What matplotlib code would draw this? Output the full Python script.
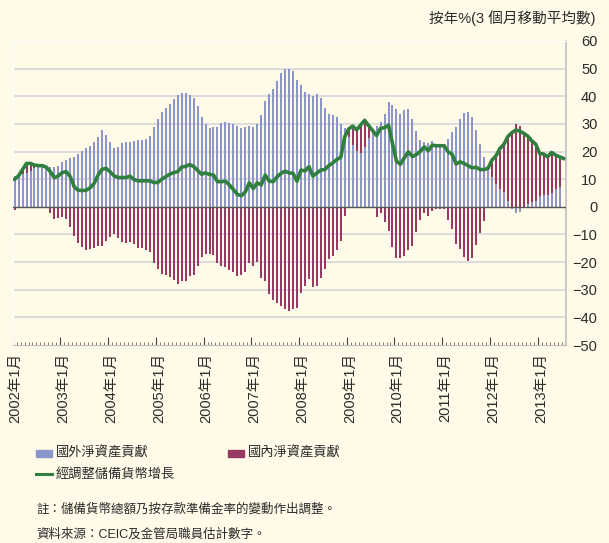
import matplotlib
matplotlib.use("Agg")
import matplotlib.pyplot as plt
import matplotlib.transforms as mtransforms
import numpy as np
from matplotlib.lines import Line2D
from matplotlib.patches import Rectangle

plt.rcParams["font.family"] = ["Liberation Sans", "Noto Sans CJK TC"]

# 每月數據：2002年1月至2013年6月（按年%，3個月移動平均數）
FOREIGN = [
    11.0, 11.2, 11.7, 12.3, 13.0, 13.9, 14.5, 14.5, 14.3, 14.5,
    14.5, 14.7, 16.3, 16.9, 17.6, 18.0, 19.1, 20.2, 21.3, 22.0,
    23.4, 25.2, 27.8, 26.0, 23.4, 21.3, 21.6, 23.1, 23.4, 23.4,
    23.8, 24.2, 24.2, 24.5, 25.6, 28.9, 31.8, 34.3, 35.7, 37.2,
    39.0, 40.5, 41.2, 41.2, 40.5, 39.4, 36.5, 32.5, 30.0, 28.5,
    28.9, 28.9, 30.3, 30.7, 30.3, 30.0, 29.2, 28.6, 28.9, 29.2,
    28.9, 30.0, 33.2, 38.3, 40.8, 42.6, 45.5, 48.3, 49.9, 49.9,
    49.2, 45.9, 44.1, 41.5, 40.8, 40.1, 40.8, 39.4, 35.7, 33.6,
    33.2, 32.5, 30.0, 28.5, 25.4, 22.3, 20.2, 19.3, 21.5, 24.8,
    27.8, 29.1, 30.8, 33.6, 37.9, 36.7, 35.4, 33.7, 35.0, 35.4,
    31.8, 27.4, 24.2, 23.4, 23.0, 23.7, 22.3, 22.0, 22.2, 24.5,
    27.0, 28.9, 31.8, 33.9, 34.3, 32.5, 27.8, 22.6, 18.0, 14.3,
    10.9, 8.3, 6.5, 5.4, 2.0, -0.7, -2.2, -1.8, 0.0, 1.0,
    1.7, 2.1, 3.9, 4.2, 4.2, 5.1, 6.4, 7.2,
]
DOMESTIC = [
    -1.2, 0.0, 1.8, 3.4, 2.7, 1.2, 0.4, 0.4, 0.0, -2.2,
    -4.5, -4.0, -3.6, -4.5, -7.2, -10.4, -13.0, -14.5, -15.6, -15.2,
    -14.9, -14.1, -14.1, -12.3, -10.9, -9.7, -11.2, -12.7, -13.0, -12.7,
    -13.6, -14.9, -14.9, -15.5, -16.3, -20.3, -22.6, -24.3, -24.5, -25.4,
    -26.4, -27.9, -26.8, -26.8, -25.1, -24.6, -21.5, -18.1, -17.1, -16.9,
    -17.5, -20.2, -21.4, -21.7, -22.7, -23.6, -25.0, -24.6, -23.6, -20.3,
    -21.4, -19.9, -25.7, -26.9, -31.4, -33.8, -34.8, -35.9, -37.0, -37.7,
    -36.8, -36.6, -31.2, -28.6, -26.1, -29.0, -28.7, -25.7, -22.5, -18.8,
    -17.8, -15.7, -12.4, -3.3, 2.0, 6.5, 7.6, 10.5, 9.7, 4.6,
    0.3, -3.6, -2.2, -5.4, -8.7, -14.5, -18.5, -18.5, -17.8, -15.6,
    -14.1, -9.1, -4.7, -2.2, -3.3, -1.4, -0.7, -0.7, -0.7, -4.7,
    -8.0, -13.4, -15.2, -18.1, -19.6, -18.5, -13.8, -9.4, -5.1, 0.0,
    6.0, 9.9, 13.6, 17.2, 23.3, 27.5, 29.8, 29.2, 26.6, 24.6,
    22.2, 20.6, 15.4, 14.9, 13.9, 14.6, 12.3, 10.9,
]
RESERVE_GROWTH = [
    10.0, 11.2, 13.5, 15.7, 15.7, 15.1, 14.9, 14.9, 14.3, 12.7,
    10.5, 11.2, 12.4, 12.7, 10.9, 7.2, 6.0, 5.9, 6.0, 6.9,
    8.5, 11.5, 13.6, 13.9, 12.7, 11.2, 10.6, 10.6, 10.6, 11.1,
    9.9, 9.4, 9.4, 9.4, 9.4, 8.8, 8.8, 10.0, 10.9, 11.8,
    12.4, 12.7, 14.4, 14.6, 15.3, 14.6, 13.2, 11.8, 12.3, 11.7,
    11.5, 9.1, 9.1, 9.3, 7.9, 6.3, 4.5, 4.0, 5.4, 8.7,
    6.6, 8.7, 7.9, 11.5, 9.3, 9.1, 10.9, 12.1, 12.9, 12.3,
    12.1, 9.3, 13.3, 13.0, 14.5, 11.1, 12.3, 13.3, 13.5, 14.9,
    15.9, 17.1, 17.9, 25.4, 28.2, 29.2, 27.8, 29.6, 31.3, 29.4,
    27.6, 25.8, 28.4, 28.6, 29.6, 22.9, 16.5, 15.4, 17.8, 19.9,
    18.2, 18.9, 20.1, 21.7, 20.3, 22.3, 22.1, 22.1, 22.1, 19.9,
    19.0, 15.5, 16.3, 15.7, 14.9, 14.1, 14.3, 13.5, 13.5, 13.9,
    16.9, 18.4, 21.1, 22.6, 25.4, 26.8, 27.8, 27.4, 26.6, 25.6,
    23.9, 22.7, 19.3, 19.1, 18.1, 19.7, 18.7, 18.1, 17.5,
]
YEAR_LABELS = [
    "2002年1月", "2003年1月", "2004年1月", "2005年1月", "2006年1月", "2007年1月",
    "2008年1月", "2009年1月", "2010年1月", "2011年1月", "2012年1月", "2013年1月",
]
Y_TICKS = [-50, -40, -30, -20, -10, 0, 10, 20, 30, 40, 50, 60]

BG = "#FFFBE8"
LAVENDER = "#8C95CB"
MAROON = "#973865"
GREEN = "#2F7F3F"
TEXT = "#2B2B2B"

foreign = np.array(FOREIGN)
domestic = np.array(DOMESTIC)
growth = np.array(RESERVE_GROWTH)

x_bar = np.arange(len(foreign)) + 0.5
x_line = np.arange(len(growth)) + 0.5
dom_bottom = np.where(domestic >= 0, np.clip(foreign, 0, None), np.clip(foreign, None, 0))

fig = plt.figure(figsize=(6.09, 5.43), dpi=100, facecolor=BG)
ax = fig.add_axes([0.0207, 0.3646, 0.9079, 0.5599], facecolor=BG)

for v in Y_TICKS[1:-1]:
    if v != 0:
        ax.axhline(v, color="#DCDCDC", linewidth=1.4, zorder=0)

ax.bar(x_bar, foreign, width=0.5, color=LAVENDER, linewidth=0, zorder=2)
ax.bar(x_bar, domestic, bottom=dom_bottom, width=0.5, color=MAROON, linewidth=0, zorder=2)
ax.axhline(0, color="#555555", linewidth=1.0, zorder=3)
ax.plot(x_line, growth, color=GREEN, linewidth=2.6, zorder=4, solid_joinstyle="round")

ax.set_xlim(0, 139)
ax.set_ylim(-50, 60)

ax.yaxis.tick_right()
ax.set_yticks(Y_TICKS)
ax.tick_params(axis="y", length=0, pad=23, labelsize=10.5, labelcolor=TEXT)
for lab in ax.get_yticklabels():
    lab.set_horizontalalignment("right")

ax.set_xticks(np.arange(0, 133, 12))
ax.set_xticks(np.arange(0, 139, 1), minor=True)
ax.set_xticklabels(YEAR_LABELS, rotation=90, fontsize=10.5, color=TEXT)
ax.tick_params(axis="x", which="major", direction="in", length=6, width=0.8,
               color="#444444", pad=6)
ax.tick_params(axis="x", which="minor", direction="in", length=2.5, width=0.6,
               color="#666666")
shift = mtransforms.ScaledTranslation(3 / 100, 0, fig.dpi_scale_trans)
for lab in ax.get_xticklabels():
    lab.set_transform(lab.get_transform() + shift)

ax.spines["top"].set_color("white")
ax.spines["left"].set_color("white")
ax.spines["right"].set_color("#C8C8C8")
ax.spines["right"].set_linewidth(1.4)
ax.spines["bottom"].set_color("#BBBBBB")

fig.text(0.978, 0.967, "按年%(3 個月移動平均數)", ha="right", va="center",
         fontsize=10.5, color=TEXT)

# 圖例
W, H = 609, 543
fig.add_artist(Rectangle((36 / W, 1 - 457 / H), 16 / W, 7 / H,
                         transform=fig.transFigure, color=LAVENDER))
fig.text(56 / W, 1 - 453 / H, "國外淨資產貢獻", va="center", fontsize=9.5, color=TEXT)
fig.add_artist(Rectangle((228 / W, 1 - 457 / H), 16 / W, 7 / H,
                         transform=fig.transFigure, color=MAROON))
fig.text(248 / W, 1 - 453 / H, "國內淨資產貢獻", va="center", fontsize=9.5, color=TEXT)
fig.add_artist(Line2D([36 / W, 52 / W], [1 - 474 / H, 1 - 474 / H],
                      transform=fig.transFigure, color=GREEN, linewidth=2.2))
fig.text(56 / W, 1 - 474 / H, "經調整儲備貨幣增長", va="center", fontsize=9.5, color=TEXT)

fig.text(36 / W, 1 - 510 / H, "註：儲備貨幣總額乃按存款準備金率的變動作出調整。",
         va="center", fontsize=9, color=TEXT)
fig.text(36 / W, 1 - 534 / H, "資料來源：CEIC及金管局職員估計數字。",
         va="center", fontsize=9, color=TEXT)

fig.savefig("out.png", dpi=100, facecolor=BG)
